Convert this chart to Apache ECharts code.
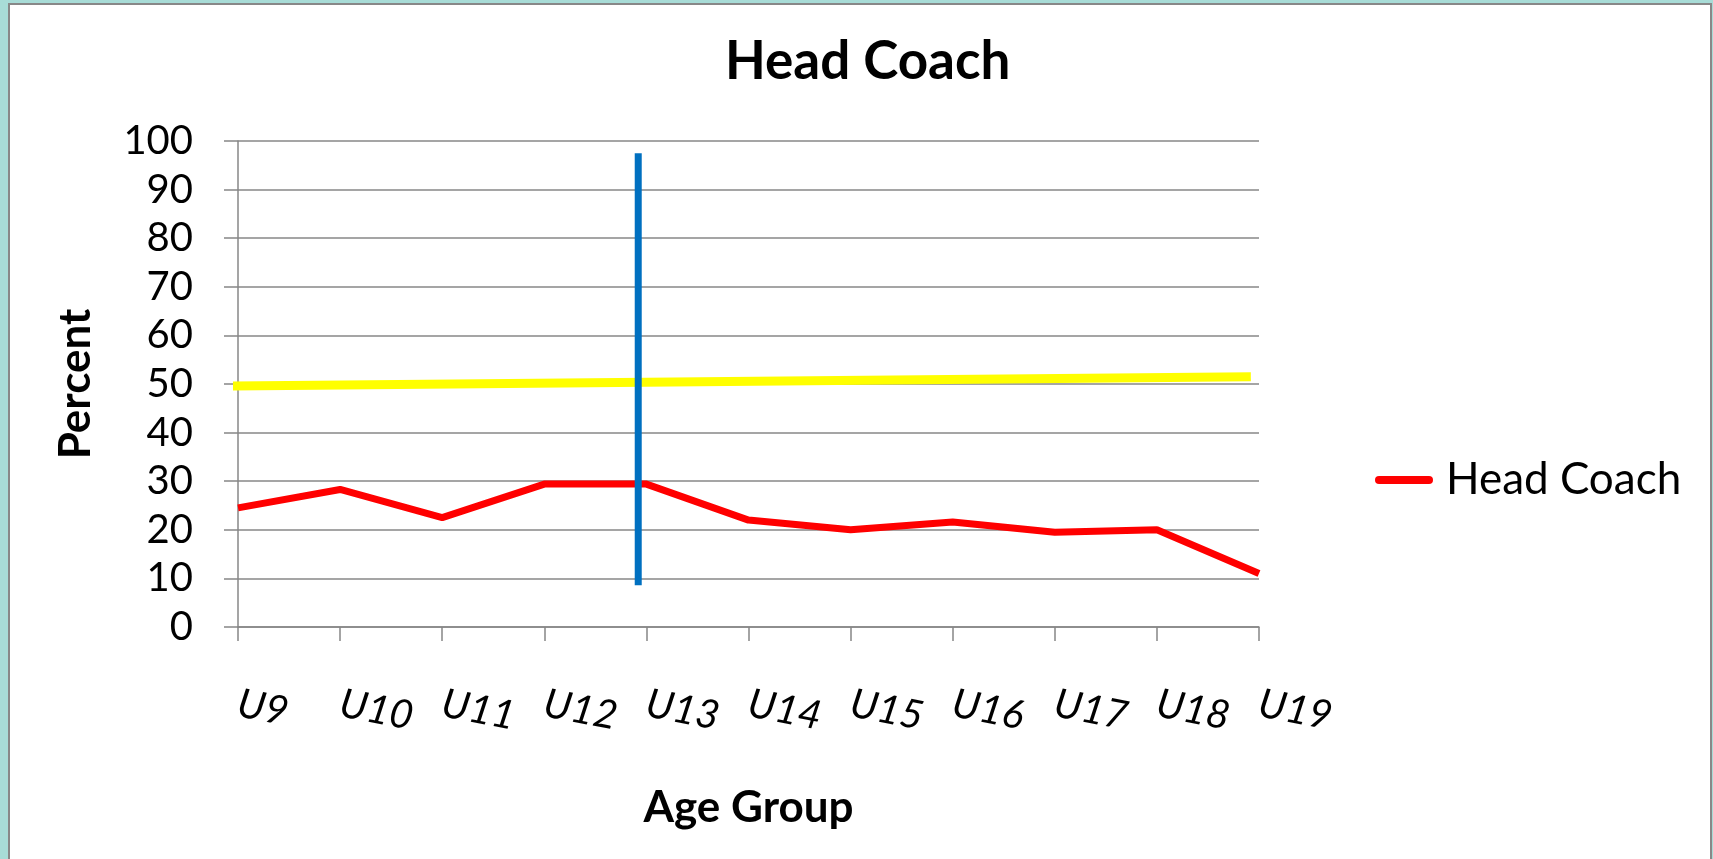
<!DOCTYPE html>
<html>
<head>
<meta charset="utf-8">
<script src="https://cdn.jsdelivr.net/npm/echarts@6/dist/echarts.min.js"></script>
<style>
  html, body { margin: 0; padding: 0; background: #a8dcd7; overflow: hidden; }
  #frame { position: absolute; left: 8px; top: 3px; width: 1700px; height: 870px; border: 2px solid #888888; background: #ffffff; }
  #chart { position: absolute; left: 0; top: 0; width: 1713px; height: 859px; }
</style>
</head>
<body>
<div id="frame"></div>
<div id="chart"></div>
<script>
const ageGroups = ["U9", "U10", "U11", "U12", "U13", "U14", "U15", "U16", "U17", "U18", "U19"];
const headCoach = [24.5, 28.3, 22.5, 29.4, 29.4, 22, 20, 21.6, 19.5, 20, 11];
// yellow reference line: [position along axis, percent]
const trendLine = [[-0.06, 49.6], [9.92, 51.5]];
// blue divider line
const dividerLine = [[3.92, 8.6], [3.92, 97.5]];
const yTicks = { min: 0, max: 100, interval: 10 };

const gray = "#878787";
const font = "Lato";

const chart = echarts.init(document.getElementById("chart"));
chart.setOption({
  animation: false,
  title: {
    text: "Head Coach",
    left: 720,
    top: 30,
    textStyle: { fontFamily: font, fontSize: 53, fontWeight: "bold", color: "#000000" },
  },
  legend: {
    data: [{ name: "Head Coach", icon: "path://M4,0 H54 A4,4 0 0 1 54,8 H4 A4,4 0 0 1 4,0 Z" }],
    left: 1370,
    top: 453,
    itemWidth: 58,
    itemHeight: 8,
    itemStyle: { color: "#ff0000" },
    textStyle: { fontFamily: font, fontSize: 44, color: "#000000", padding: [0, 0, 0, 8] },
  },
  grid: { left: 238, right: 454, top: 141, bottom: 232 },
  xAxis: [
    {
      type: "category",
      data: ageGroups,
      boundaryGap: false,
      name: "Age Group",
      nameLocation: "middle",
      nameGap: 159,
      nameTextStyle: { fontFamily: font, fontSize: 44, fontWeight: "bold", color: "#000000" },
      axisLine: { lineStyle: { color: gray, width: 1.5 } },
      axisTick: { show: true, length: 14, lineStyle: { color: gray, width: 1.5 } },
      axisLabel: {
        rotate: -11,
        margin: 76,
        fontFamily: font,
        fontSize: 40,
        fontStyle: "italic",
        color: "#000000",
      },
      splitLine: { show: false },
    },
    { type: "value", min: 0, max: 10, show: false },
  ],
  yAxis: {
    type: "value",
    min: yTicks.min,
    max: yTicks.max,
    interval: yTicks.interval,
    name: "Percent",
    nameLocation: "middle",
    nameRotate: 90,
    nameGap: 140,
    nameTextStyle: { fontFamily: font, fontSize: 44, fontWeight: "bold", color: "#000000" },
    axisLine: { show: true, lineStyle: { color: gray, width: 1.5 } },
    axisTick: { show: true, length: 14, lineStyle: { color: gray, width: 1.5 } },
    axisLabel: { margin: 45, fontFamily: font, fontSize: 40, color: "#000000" },
    splitLine: { lineStyle: { color: gray, width: 1.5 } },
  },
  series: [
    {
      name: "Head Coach",
      type: "line",
      data: headCoach,
      symbol: "none",
      lineStyle: { color: "#ff0000", width: 7 },
      itemStyle: { color: "#ff0000" },
      z: 3,
    },
    {
      type: "line",
      xAxisIndex: 1,
      data: trendLine,
      symbol: "none",
      clip: false,
      lineStyle: { color: "#ffff00", width: 9 },
      z: 2,
    },
    {
      type: "line",
      xAxisIndex: 1,
      data: dividerLine,
      symbol: "none",
      lineStyle: { color: "#0070c0", width: 7 },
      z: 4,
    },
  ],
});
</script>
</body>
</html>
